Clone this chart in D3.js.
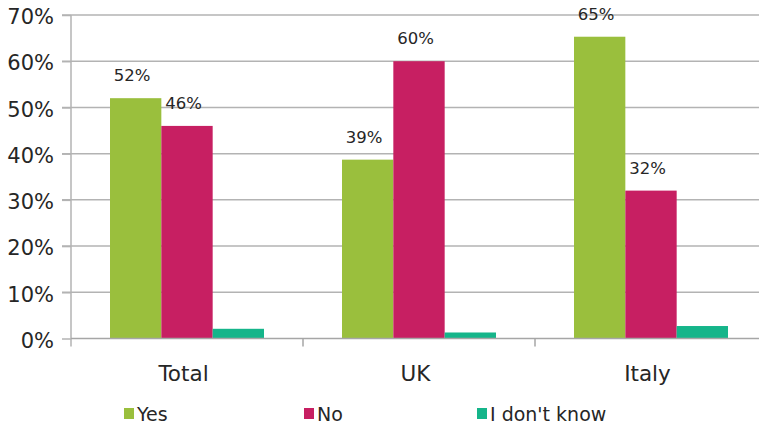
<!DOCTYPE html>
<html><head><meta charset="utf-8">
<script src="https://cdn.jsdelivr.net/npm/d3@7"></script>
<style>body{margin:0;background:#fff}svg{display:block}text{font-family:"DejaVu Sans",Verdana,sans-serif;fill:#262626}</style>
</head><body><svg id="c" width="759" height="426"></svg>
<script>
const categories = ["Total", "UK", "Italy"];
const seriesNames = ["Yes", "No", "I don't know"];
const yesValues = [52, 38.7, 65.3];
const noValues = [46, 60, 32];
const dkValues = [2.1, 1.3, 2.7];
const yesLabels = ["52%", "39%", "65%"];
const noLabels = ["46%", "60%", "32%"];
const yTicks = [0, 10, 20, 30, 40, 50, 60, 70];
const colors = ["#9abf3d", "#c71f62", "#15b58a"];

const svg = d3.select("#c");
const x0 = 71, x1 = 767, yTop = 15, yBot = 338.5;
const x = d3.scaleBand().domain(categories).range([x0, x1]).paddingInner(0).paddingOuter(0);
const inner = d3.scaleBand().domain(seriesNames).range([39, 232 - 39]).padding(0);
const y = d3.scaleLinear().domain([0, 70]).range([yBot, yTop]);

// gridlines
svg.append("g").selectAll("line").data(yTicks.filter(d => d > 0)).join("line")
  .attr("x1", 62).attr("x2", 759).attr("y1", d => y(d)).attr("y2", d => y(d))
  .attr("stroke", "#b3b3b3").attr("stroke-width", 1.5);

// y axis
const yAxis = d3.axisLeft(y).tickValues(yTicks).tickSize(9).tickPadding(8).tickFormat(d => d + "%");
const gy = svg.append("g").attr("transform", `translate(${x0},0)`).call(yAxis);
gy.select(".domain").remove();
gy.selectAll(".tick line").attr("stroke", "#b3b3b3").attr("stroke-width", 1.5);
gy.selectAll(".tick text").attr("font-size", 21).attr("fill", "#262626").attr("y", 2);
svg.append("line").attr("x1", x0).attr("x2", x0).attr("y1", yTop).attr("y2", yBot + 8)
  .attr("stroke", "#b3b3b3").attr("stroke-width", 1.5);

// bars
const series = [yesValues, noValues, dkValues];
series.forEach((vals, si) => {
  svg.append("g").selectAll("rect").data(categories).join("rect")
    .attr("x", c => x(c) + inner(seriesNames[si]))
    .attr("width", inner.bandwidth())
    .attr("y", (c, i) => y(vals[i]))
    .attr("height", (c, i) => y(0) - y(vals[i]))
    .attr("fill", colors[si]);
});

// x axis
svg.append("line").attr("x1", x0).attr("x2", 759).attr("y1", yBot).attr("y2", yBot)
  .attr("stroke", "#a6a6a6").attr("stroke-width", 1.5);
svg.append("g").selectAll("line").data(categories.slice(1)).join("line")
  .attr("x1", c => x(c)).attr("x2", c => x(c)).attr("y1", yBot).attr("y2", yBot + 8)
  .attr("stroke", "#a6a6a6").attr("stroke-width", 1.5);
svg.append("g").selectAll("text").data(categories).join("text")
  .attr("x", c => x(c) + x.bandwidth() / 2 - 3.5).attr("y", yBot + 42.5)
  .attr("text-anchor", "middle").attr("font-size", 21.5).text(c => c);

// data labels
[[yesValues, yesLabels, "Yes"], [noValues, noLabels, "No"]].forEach(([vals, labs, s]) => {
  svg.append("g").selectAll("text").data(categories).join("text")
    .attr("x", c => x(c) + inner(s) + inner.bandwidth() / 2 - 3.5)
    .attr("y", (c, i) => y(vals[i]) - 17)
    .attr("text-anchor", "middle").attr("font-size", 16.5)
    .text((c, i) => labs[i]);
});

// legend
const legX = [124, 304, 477];
const lg = svg.append("g");
seriesNames.forEach((s, i) => {
  lg.append("rect").attr("x", legX[i]).attr("y", 408).attr("width", 10).attr("height", 11).attr("fill", colors[i]);
  lg.append("text").attr("x", legX[i] + 13).attr("y", 421).attr("font-size", 19).text(s);
});
</script></body></html>
